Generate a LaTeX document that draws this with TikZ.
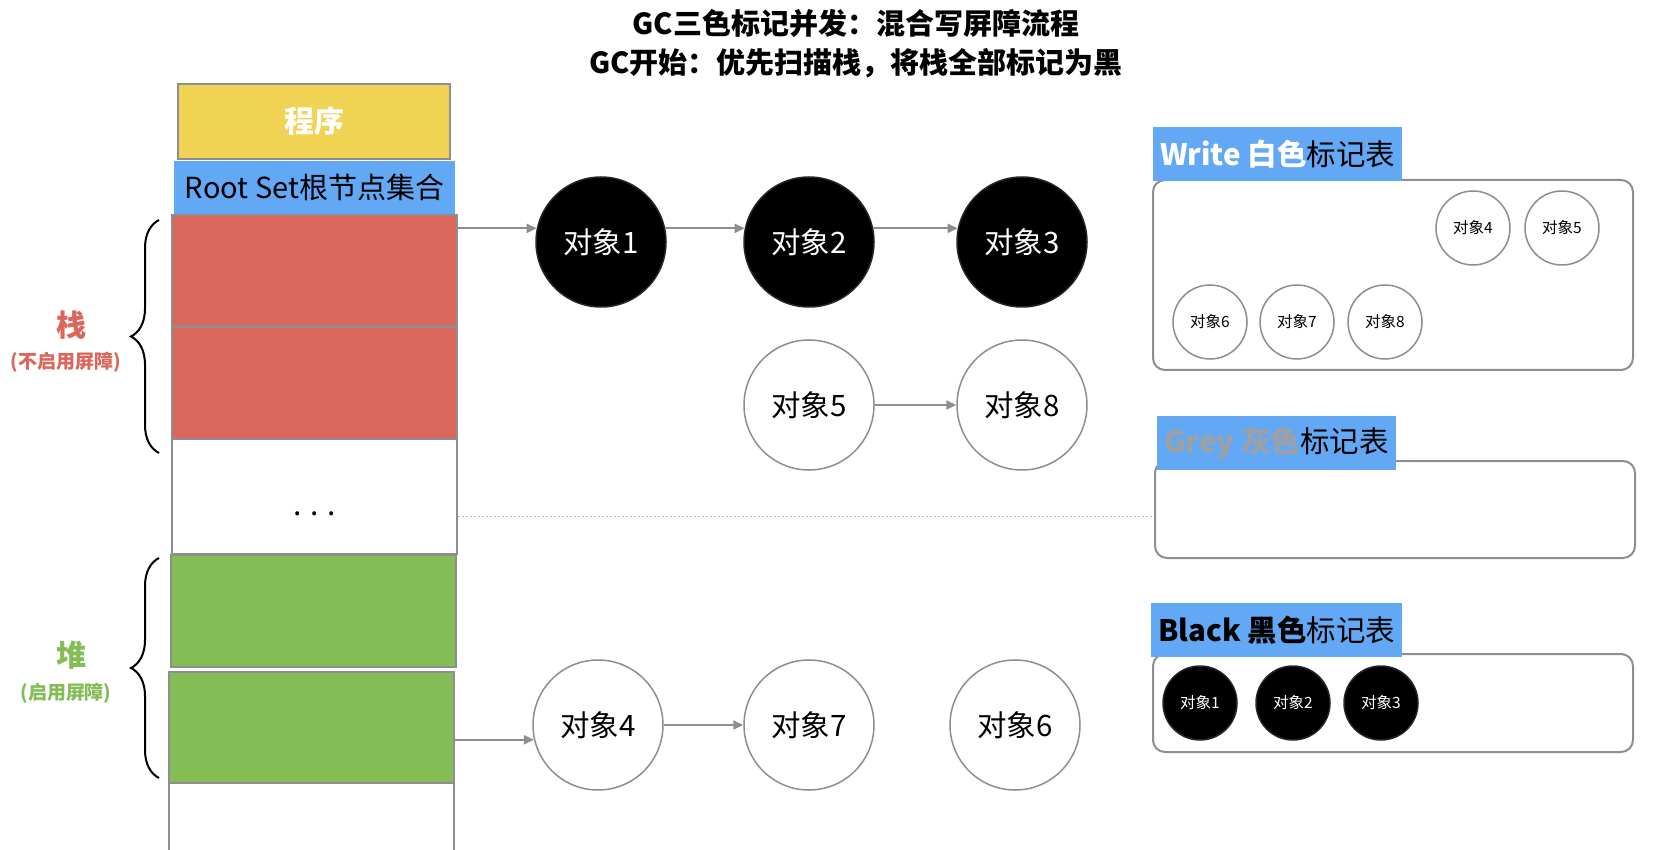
\documentclass[tikz,border=0pt]{standalone}
\usepackage{fontspec}
\setmainfont{Noto Sans CJK SC}
\usetikzlibrary{arrows.meta,decorations.pathreplacing}
\definecolor{progyellow}{RGB}{240,211,82}
\definecolor{rootblue}{RGB}{99,168,245}
\definecolor{stackred}{RGB}{219,102,91}
\definecolor{heapgreen}{RGB}{132,188,85}
\definecolor{bordergrey}{RGB}{142,142,142}
\definecolor{greytext}{RGB}{160,160,160}
\begin{document}
\begin{tikzpicture}[x=1pt,y=-1pt]
        \tikzstyle{block}=[rectangle,draw=bordergrey,line width=2pt,minimum width=285pt,minimum height=111pt,inner sep=0pt]
        \tikzstyle{object}=[circle,draw=bordergrey,line width=1.5pt,fill=white,minimum size=130pt,inner sep=0pt,font=\fontsize{29.5}{29.5}\selectfont]
        \tikzstyle{blackobject}=[object,fill=black,draw=black!85,text=white]
        \tikzstyle{smallobject}=[object,minimum size=74pt,font=\fontsize{15.5}{15.5}\selectfont]
        \tikzstyle{smallblack}=[smallobject,fill=black,draw=black!85,text=white]
        \tikzstyle{marktable}=[rectangle,rounded corners=12pt,draw=bordergrey,line width=2pt,inner sep=0pt]
        \tikzstyle{header}=[rectangle,fill=rootblue,anchor=west,minimum height=54pt,inner xsep=7pt,font=\fontsize{29.5}{29.5}\selectfont]
        \tikzstyle{edge}=[draw,line width=2pt,bordergrey,-{Triangle[length=10pt,width=9pt]}]
        \tikzstyle{bracket}=[draw,line width=2pt,decorate,decoration={brace,amplitude=28pt}]
        \useasboundingbox (0,0) rectangle (1666,850);
        \begin{scope}
                % title
                \node [font=\fontsize{29}{29}\selectfont\bfseries] (title) at (856,23) {GC三色标记并发：混合写屏障流程};
                \node [font=\fontsize{29}{29}\selectfont\bfseries] (subtitle) at (856,63) {GC开始：优先扫描栈，将栈全部标记为黑};
        \end{scope}
        \begin{scope}
                % program and memory column
                \node [block,fill=progyellow,minimum width=272pt,minimum height=75pt,text=white,font=\fontsize{30}{30}\selectfont\bfseries] (prog) at (314,121.5) {程序};
                \node [rectangle,fill=rootblue,minimum width=281pt,minimum height=53pt,inner sep=0pt,font=\fontsize{29}{29}\selectfont] (rootset) at (314.5,187.5) {Root Set根节点集合};
                \node [block,fill=stackred] (red1) at (314.5,271) {};
                \node [block,fill=stackred] (red2) at (314.5,383) {};
                \node [block,fill=white,minimum height=115pt] (dotsbox) at (314.5,496.5) {};
                \node [font=\fontsize{30}{30}\selectfont] (dots) at (314.5,514) {. . .};
                \node [block,fill=heapgreen,minimum height=112pt] (green1) at (313.5,611) {};
                \node [block,fill=heapgreen] (green2) at (311.5,727.5) {};
                \node [block,fill=white,minimum height=80pt] (heaprest) at (311.5,823) {};
                \coordinate (stacktop) at (159,220);
                \coordinate (stackbottom) at (159,453);
                \coordinate (heaptop) at (159,558);
                \coordinate (heapbottom) at (159,778);
                \path[bracket] (stackbottom) -- (stacktop);
                \path[bracket] (heapbottom) -- (heaptop);
                \node [text=stackred,font=\fontsize{30}{30}\selectfont\bfseries] (stacklabel) at (71,325) {栈};
                \node [text=stackred,font=\fontsize{19}{19}\selectfont\bfseries] (stacknote) at (66,362) {(不启用屏障)};
                \node [text=heapgreen,font=\fontsize{30}{30}\selectfont\bfseries] (heaplabel) at (71,655) {堆};
                \node [text=heapgreen,font=\fontsize{19}{19}\selectfont\bfseries] (heapnote) at (66,693) {(启用屏障)};
        \end{scope}
        \begin{scope}
                % object graph
                \node [blackobject] (o1) at (601,242) {对象1};
                \node [blackobject] (o2) at (809,242) {对象2};
                \node [blackobject] (o3) at (1022,242) {对象3};
                \node [object] (o5) at (809,405) {对象5};
                \node [object] (o8) at (1022,405) {对象8};
                \node [object] (o4) at (598,725) {对象4};
                \node [object] (o7) at (809,725) {对象7};
                \node [object] (o6) at (1015,725) {对象6};
                \path[edge] (red1.east |- o1.168) -- (o1.168);
                \path[edge] (o1.12) -- (o2.168);
                \path[edge] (o2.12) -- (o3.168);
                \path[edge] (o5) -- (o8);
                \path[edge] (green2.east |- o4.193) -- (o4.193);
                \path[edge] (o4) -- (o7);
        \end{scope}
        \begin{scope}
                % mark tables
                \node [marktable,minimum width=480pt,minimum height=190pt] (whitetable) at (1393,275) {};
                \node [header] (whitehead) at (1153,154) {{\bfseries\color{white}Write 白色}标记表};
                \node [smallobject] (w4) at (1473,228) {对象4};
                \node [smallobject] (w5) at (1562,228) {对象5};
                \node [smallobject] (w6) at (1210,322) {对象6};
                \node [smallobject] (w7) at (1297,322) {对象7};
                \node [smallobject] (w8) at (1385,322) {对象8};
                \node [marktable,minimum width=480pt,minimum height=97pt] (greytable) at (1395,509.5) {};
                \node [header] (greyhead) at (1157,443) {{\bfseries\color{greytext}Grey 灰色}标记表};
                \node [marktable,minimum width=480pt,minimum height=98pt] (blacktable) at (1393,703) {};
                \node [header] (blackhead) at (1151,630) {{\bfseries Black 黑色}标记表};
                \node [smallblack] (b1) at (1200,703) {对象1};
                \node [smallblack] (b2) at (1293,703) {对象2};
                \node [smallblack] (b3) at (1381,703) {对象3};
                \draw [bordergrey!60,line width=1.5pt,dash pattern=on 1.5pt off 2.5pt] ([yshift=-20pt]dotsbox.east) -- ([yshift=-20pt]dotsbox.east -| greytable.west);
        \end{scope}
\end{tikzpicture}
\end{document}
